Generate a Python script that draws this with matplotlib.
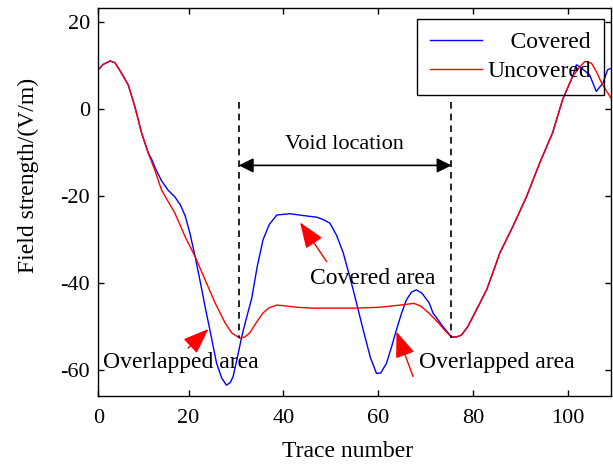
import numpy as np
import matplotlib
matplotlib.use("Agg")
import matplotlib.pyplot as plt

plt.rcParams['font.family'] = ['Liberation Serif', 'DejaVu Serif']
plt.rcParams['axes.unicode_minus'] = False

# trace number / field strength
uncov_x = [1.0, 2.0, 3.5, 4.5, 5.5, 7.3, 8.7, 10.1, 11.5, 12.9, 14.3, 15.5, 17.1, 19.3,
           21.4, 23.5, 25.6, 27.7, 29.1, 30.8, 31.9, 32.9, 34.3, 35.7, 37.0, 38.6, 40.5,
           42.8, 46.0, 49.8, 55.0, 60.3, 64.6, 67.5, 69.0, 70.7, 72.5, 74.0, 75.4, 76.5,
           77.5, 78.8, 79.9, 81.4, 82.8, 84.2, 85.6, 88.3, 91.2, 94.0, 96.7, 98.8, 100.9,
           102.4, 103.5, 104.9, 106.0, 107.0, 108.0, 109.0]
uncov_y = [9.1, 10.3, 11.1, 10.7, 9.0, 5.6, 0.6, -5.4, -10.0, -14.0, -18.5, -20.8, -23.8, -29.3,
           -33.9, -39.2, -44.5, -49.1, -51.4, -52.6, -52.3, -51.4, -49.0, -46.8, -45.6, -45.0, -45.2,
           -45.5, -45.7, -45.7, -45.7, -45.5, -45.0, -44.6, -45.3, -46.9, -48.9, -50.8, -52.4, -52.3,
           -51.9, -50.0, -47.7, -44.5, -41.5, -37.3, -33.0, -27.0, -20.1, -12.3, -5.4, 2.2, 7.5,
           9.7, 11.0, 10.6, 8.5, 6.1, 4.3, 2.6]

cov_x = [1.0, 2.0, 3.5, 4.5, 5.5, 7.3, 8.7, 10.1, 11.5, 12.2, 13.2, 14.3, 15.7, 17.1, 18.3,
         19.3, 20.3, 21.4, 22.5, 23.5, 24.5, 25.9, 27.0, 28.0, 28.8, 29.4, 30.3, 31.2, 32.2,
         33.3, 34.5, 35.7, 37.0, 38.6, 41.4, 44.0, 47.0, 48.5, 49.8, 51.2, 52.6, 54.7, 56.8,
         58.3, 59.6, 60.5, 61.7, 62.8, 63.8, 64.9, 65.9, 67.0, 68.0, 69.2, 70.7, 71.5, 73.5,
         75.4, 76.5, 77.5, 78.8, 79.9, 81.4, 82.8, 84.2, 85.6, 88.3, 91.2, 94.0, 96.7, 98.8,
         100.9, 101.7, 102.4, 104.5, 105.9, 107.3, 108.3, 109.0]
cov_y = [9.1, 10.3, 11.1, 10.7, 9.0, 5.6, 0.6, -5.4, -10.0, -11.4, -14.0, -16.4, -18.6, -20.1, -22.0,
         -24.5, -28.5, -33.9, -39.8, -45.4, -50.7, -58.3, -61.8, -63.4, -62.8, -61.4, -57.0, -52.3, -48.0,
         -43.5, -36.0, -30.0, -26.5, -24.3, -24.0, -24.4, -24.8, -25.4, -26.2, -29.0, -33.0, -41.5, -50.7,
         -57.0, -60.7, -60.6, -58.4, -54.5, -50.7, -46.8, -43.8, -42.0, -41.5, -42.3, -44.5, -46.8, -49.8,
         -52.3, -52.3, -51.9, -50.0, -47.7, -44.5, -41.5, -37.3, -33.0, -27.0, -20.1, -12.3, -5.4, 2.2,
         7.5, 10.2, 9.8, 7.9, 4.1, 6.0, 9.1, 9.4]

xticks = [1, 20, 40, 60, 80, 100]
xticklabels = ['0', '20', '40', '60', '80', '100']
yticks = [-60, -40, -20, 0, 20]

void_start = 30.6
void_end = 75.4

fig = plt.figure(figsize=(6.13, 4.70), dpi=100)
ax = fig.add_axes([0.1604, 0.1574, 0.8363, 0.8249])

ax.plot(cov_x, cov_y, color='#0000ff', lw=1.0, label='    Covered')
ax.plot(uncov_x, uncov_y, color='#ff0000', lw=1.0, label='Uncovered')

ax.set_xlim(1, 109)
ax.set_ylim(-65.9, 23.2)
ax.set_xticks(xticks)
ax.set_xticklabels(xticklabels)
ax.set_yticks(yticks)
ax.tick_params(direction='in', top=True, right=True, length=4, width=1,
               labelsize=16)
ax.tick_params(axis='x', pad=9)
ax.tick_params(axis='y', pad=6)
for s in ax.spines.values():
    s.set_linewidth(1.0)

ax.set_xlabel('Trace number', fontsize=17)
ax.set_ylabel('Field strength/(V/m)', fontsize=17)
ax.xaxis.set_label_coords(0.487, -0.115)
ax.yaxis.set_label_coords(-0.115, 0.57)

# void markers
for xv in (void_start, void_end):
    ax.plot([xv, xv], [1.7, -52.6], color='k', lw=1.2, dashes=(4, 3))
ax.annotate('', xy=(void_end, -12.9), xytext=(void_start, -12.9),
            arrowprops=dict(arrowstyle='<|-|>', color='k', lw=1.2,
                            mutation_scale=22, shrinkA=0, shrinkB=0))
ax.text(52.9, -8.2, 'Void location', fontsize=16, ha='center', va='center')

red_arrow = dict(arrowstyle='-|>,head_length=1.0,head_width=0.38', color='red',
                 lw=1.0, mutation_scale=16, shrinkA=0, shrinkB=0)
ax.annotate('', xy=(24.2, -50.5), xytext=(19.9, -54.9), arrowprops=red_arrow)
ax.annotate('', xy=(43.5, -26.0), xytext=(49.1, -35.0), arrowprops=red_arrow)
ax.annotate('', xy=(63.8, -51.1), xytext=(67.3, -61.4), arrowprops=red_arrow)

ax.text(58.8, -39.0, 'Covered area', fontsize=17, ha='center', va='center')
ax.text(18.4, -58.3, 'Overlapped area', fontsize=17, ha='center', va='center')
ax.text(84.9, -58.3, 'Overlapped area', fontsize=17, ha='center', va='center')

leg = ax.legend(loc='upper right', bbox_to_anchor=(0.986, 0.973), fontsize=17,
                frameon=True, fancybox=False, facecolor='none', edgecolor='k',
                framealpha=1, borderaxespad=0, handlelength=2.2, handletextpad=0.2,
                labelspacing=0.3, borderpad=0.55)
leg.get_frame().set_linewidth(1.0)

fig.savefig('out.png', dpi=100)
